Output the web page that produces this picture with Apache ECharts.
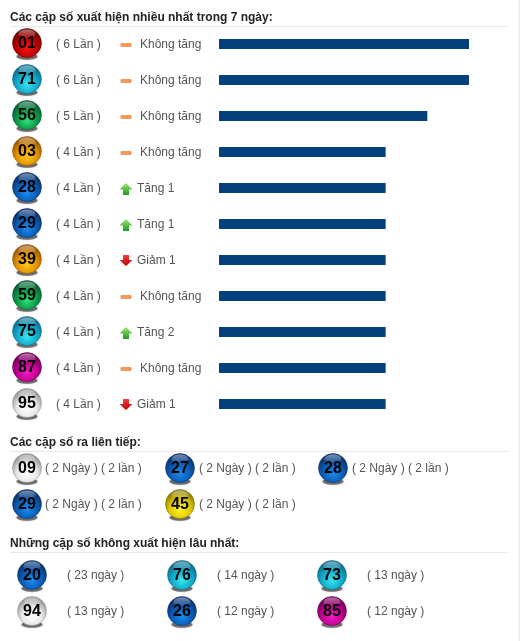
<!DOCTYPE html>
<html><head><meta charset="utf-8">
<style>html,body{margin:0;padding:0;background:#fff}#c{width:520px;height:641px}</style>
<script src="https://cdn.jsdelivr.net/npm/echarts@6/dist/echarts.min.js"></script>
</head><body><div id="c"></div>
<script>
// ---- data ----
const titles = ['Các cặp số xuất hiện nhiều nhất trong 7 ngày:', 'Các cặp số ra liên tiếp:', 'Những cặp số không xuất hiện lâu nhất:'];
const topNumbers = ['01','71','56','03','28','29','39','59','75','87','95'];
const topColors = ['red','cyan','green','orange','blue','blue','orange','green','cyan','magenta','white'];
const topCounts = [6,6,5,4,4,4,4,4,4,4,4];
const topTrend = ['flat','flat','flat','flat','up','up','down','flat','up','flat','down'];
const topStatus = ['Không tăng','Không tăng','Không tăng','Không tăng','Tăng 1','Tăng 1','Giảm 1','Không tăng','Tăng 2','Không tăng','Giảm 1'];
const runNumbers = ['09','27','28','29','45'];
const runColors = ['white','blue','blue','blue','yellow'];
const runDays = [2,2,2,2,2];
const runTimes = [2,2,2,2,2];
const absentNumbers = ['20','76','73','94','26','85'];
const absentColors = ['blue','cyan','cyan','white','blue','magenta'];
const absentDays = [23,14,13,13,12,12];

// ---- style ----
const FONT = '"Liberation Sans", Arial, sans-serif';
const palette = {
  red:    {glow:'#f01818', mid:'#c00000', edge:'#6a0000'},
  cyan:   {glow:'#35e6ef', mid:'#12aacb', edge:'#0d6a88'},
  green:  {glow:'#2fe07a', mid:'#0b9a48', edge:'#055a2e'},
  orange: {glow:'#ffc81e', mid:'#e39300', edge:'#955300'},
  blue:   {glow:'#1b8cf0', mid:'#0a5cb4', edge:'#0a3068'},
  magenta:{glow:'#f51cc4', mid:'#c00090', edge:'#6e0054'},
  white:  {glow:'#ffffff', mid:'#e8e8e8', edge:'#909090'},
  yellow: {glow:'#fff22a', mid:'#e2cc00', edge:'#867400'}
};
function ballShape(cx, cy, number, colorName) {
  const p = palette[colorName];
  const r = 14.5;
  return [
    {type:'ellipse', shape:{cx:cx, cy:cy+13.5, rx:10.5, ry:3.2}, style:{
      fill:'rgba(45,45,45,.6)', shadowBlur:2, shadowColor:'rgba(60,60,60,.5)'
    }},
    {type:'circle', shape:{cx:cx, cy:cy, r:r}, style:{
      fill:{type:'radial',x:.5,y:.68,r:.62,colorStops:[{offset:0,color:p.glow},{offset:.55,color:p.mid},{offset:1,color:p.edge}]},
      stroke:p.edge, lineWidth:.5
    }},
    {type:'ellipse', shape:{cx:cx, cy:cy-9, rx:8.5, ry:4.5}, style:{
      fill:{type:'linear',x:0,y:0,x2:0,y2:1,colorStops:[{offset:0,color:'rgba(255,255,255,.45)'},{offset:1,color:'rgba(255,255,255,.03)'}]}
    }},
    {type:'text', style:{x:cx, y:cy+1, text:number, align:'center', verticalAlign:'middle',
      font:'bold 16px '+FONT, fill:'#000'}}
  ];
}
function label(x, y, text) {
  return {type:'text', style:{x:x, y:y, text:text, align:'left', verticalAlign:'middle', font:'12px '+FONT, fill:'#555'}};
}
function trendIcon(x, y, kind) {
  if (kind === 'flat') return {type:'rect', shape:{x:x-5.5, y:y-1, width:11, height:4, r:1}, style:{fill:'#f6995a'}};
  const up = kind === 'up';
  const col = up
    ? [{offset:0,color:'#9be86a'},{offset:1,color:'#1f9a22'}]
    : [{offset:0,color:'#f04040'},{offset:1,color:'#c00000'}];
  const pts = up
    ? [[x,y-5],[x+6.5,y+1.5],[x+3,y+1.5],[x+3,y+7],[x-3,y+7],[x-3,y+1.5],[x-6.5,y+1.5]]
    : [[x-3,y-5],[x+3,y-5],[x+3,y],[x+6.5,y],[x,y+6],[x-6.5,y],[x-3,y]];
  return {type:'polygon', shape:{points:pts}, style:{fill:{type:'linear',x:0,y:0,x2:0,y2:1,colorStops:col}}};
}
const rows = topNumbers.map((_, i) => i);
const cat = (n) => ({type:'category', show:false, inverse:true, data:Array.from({length:n},(_, i)=>i)});
const pxAxis = (g) => ({type:'value', show:false, min:0, max:520, gridIndex:g});

const lowerCell = (cols, xBall, xText, textDy, textOf, numbers, colors) => ({
  type:'custom',
  coordinateSystem:'cartesian2d',
  renderItem(params, api) {
    const i = params.dataIndex;
    const col = i % cols;
    const row = api.value(1);
    const c = api.coord([xBall[col], row]);
    const t = api.coord([xText[col], row]);
    return {type:'group', silent:true, children:[
      ...ballShape(c[0], c[1]-1, numbers[i], colors[i]),
      label(t[0], c[1]+textDy, textOf(i))
    ]};
  }
});

const option = {
  animation:false,
  backgroundColor:'#fff',
  textStyle:{fontFamily:FONT},
  grid:[
    {left:219, top:26, width:250, height:396},
    {left:0, top:26, width:520, height:396},
    {left:0, top:451, width:520, height:72},
    {left:0, top:558, width:520, height:72}
  ],
  xAxis:[
    {type:'value', show:false, min:0, max:6, gridIndex:0},
    pxAxis(1), pxAxis(2), pxAxis(3)
  ],
  yAxis:[
    {...cat(11), gridIndex:0},
    {...cat(11), gridIndex:1},
    {...cat(2), gridIndex:2},
    {...cat(2), gridIndex:3}
  ],
  series:[
    {type:'bar', xAxisIndex:0, yAxisIndex:0, data:topCounts, barWidth:10,
     itemStyle:{color:'#04407c'}, silent:true},
    {type:'custom', coordinateSystem:'cartesian2d', xAxisIndex:1, yAxisIndex:1,
     data:rows.map(i => [0, i]),
     renderItem(params, api) {
       const i = params.dataIndex;
       const row = api.value(1);
       const c = api.coord([27, row]);
       const statusX = topTrend[i] === 'flat' ? 140 : 137;
       return {type:'group', silent:true, children:[
         ...ballShape(c[0], c[1]-1, topNumbers[i], topColors[i]),
         label(api.coord([56,row])[0], c[1]+1, '( '+topCounts[i]+' Lần )'),
         trendIcon(126, c[1], topTrend[i]),
         label(api.coord([statusX,row])[0], c[1]+1, topStatus[i])
       ]};
     }},
    {...lowerCell(3,[27,180,333],[45,199,352],0,
        i => '( '+runDays[i]+' Ngày ) ( '+runTimes[i]+' lần )', runNumbers, runColors),
     xAxisIndex:2, yAxisIndex:2,
     data:runNumbers.map((_, i) => [0, Math.floor(i/3)])},
    {...lowerCell(3,[32,182,332],[67,217,367],0,
        i => '( '+absentDays[i]+' ngày )', absentNumbers, absentColors),
     xAxisIndex:3, yAxisIndex:3,
     data:absentNumbers.map((_, i) => [0, Math.floor(i/3)])}
  ],
  graphic:[
    ...[[17,26],[442,451],[543,552]].flatMap(([ty, ly], k) => [
      {type:'text', left:10, top:ty-5, style:{text:titles[k], font:'bold 12px '+FONT, fill:'#222'}},
      {type:'rect', shape:{x:10, y:ly, width:498, height:1}, style:{fill:'#e8e8e8'}}
    ]),
    {type:'rect', shape:{x:518, y:0, width:2, height:641}, style:{fill:'#f0f0f0'}}
  ]
};
echarts.init(document.getElementById('c'), null, {renderer:'canvas'}).setOption(option);
</script></body></html>
